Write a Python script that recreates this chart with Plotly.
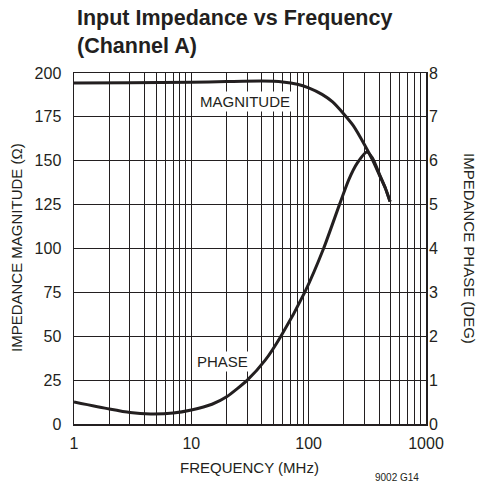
import plotly.graph_objects as go

# Frequency (MHz)
mag_freq = [1, 3, 10, 20, 40, 60, 80, 100, 130, 160, 200, 240, 300, 350, 400, 450, 494]
magnitude = [194.3, 194.4, 194.7, 195.1, 195.4, 194.9, 193.6, 191.5, 187.8, 183.5, 176.5, 170, 159, 150.5, 142, 134.5, 126.7]

phase_freq = [1, 2, 3, 4.5, 7, 10, 15, 20, 30, 42.8, 58, 92.5, 134, 183, 219, 260, 313, 350, 400, 450, 494]
phase_deg = [0.50, 0.34, 0.26, 0.23, 0.25, 0.32, 0.45, 0.62, 1.0, 1.46, 2.0, 3.0, 4.0, 5.0, 5.56, 5.95, 6.2, 6.06, 5.7, 5.38, 5.07]

x_ticks = [1, 10, 100, 1000]
x_minor = [m * d for d in (1, 10, 100) for m in range(2, 10)]

FONT = "Liberation Sans, Arial, sans-serif"
INK = "#231f20"

W, H = 482, 495
L, R, T, B = 74, 56, 73, 71
PW, PH = W - L - R, H - T - B


def px_to_paper(px, py):
    return (px - L) / PW, 1 - (py - T) / PH


fig = go.Figure()
fig.add_trace(go.Scatter(x=mag_freq, y=magnitude, mode="lines", hoverinfo="skip",
                         line=dict(color=INK, width=3, shape="spline", smoothing=0.6), showlegend=False))
fig.add_trace(go.Scatter(x=phase_freq, y=phase_deg, mode="lines", yaxis="y2", hoverinfo="skip",
                         line=dict(color=INK, width=3, shape="spline", smoothing=0.6), showlegend=False))

annotations = []
tx, ty = px_to_paper(75, 4)
annotations.append(dict(text="<b>Input Impedance vs Frequency<br>(Channel A)</b>", x=tx, y=ty, xref="paper", yref="paper",
                        xanchor="left", yanchor="top", align="left", showarrow=False,
                        font=dict(size=21.5, family=FONT, color=INK)))
annotations.append(dict(text="MAGNITUDE", x=1.458, y=183.6, xref="x", yref="y", showarrow=False,
                        bgcolor="white", font=dict(size=15), borderpad=1))
annotations.append(dict(text="PHASE", x=1.262, y=35.5, xref="x", yref="y", showarrow=False,
                        bgcolor="white", font=dict(size=15), borderpad=1))
for text, px, py, ang, size in [
    ("IMPEDANCE MAGNITUDE (Ω)", 16, 248, -90, 15),
    ("IMPEDANCE PHASE (DEG)", 470, 248, 90, 15),
    ("FREQUENCY (MHz)", 249, 467, 0, 15),
    ("9002 G14", 397, 478, 0, 10),
]:
    ax, ay = px_to_paper(px, py)
    annotations.append(dict(text=text, x=ax, y=ay, xref="paper", yref="paper", showarrow=False,
                            textangle=ang, font=dict(size=size), xanchor="center", yanchor="middle"))

fig.update_layout(
    width=W, height=H,
    margin=dict(l=L, r=R, t=T, b=B),
    paper_bgcolor="white", plot_bgcolor="white",
    font=dict(family=FONT, color=INK, size=16),
    hovermode=False,
    xaxis=dict(type="log", range=[0, 3], tickvals=x_ticks, ticktext=[str(v) for v in x_ticks],
               showgrid=True, gridcolor=INK, gridwidth=1, showline=True, linecolor=INK, linewidth=1.5, mirror=True,
               ticks="", zeroline=False, ticklabelstandoff=4,
               minor=dict(showgrid=True, tickmode="array", tickvals=x_minor, gridcolor=INK, gridwidth=1, ticks="")),
    yaxis=dict(range=[0, 200], dtick=25, showgrid=True, gridcolor=INK, gridwidth=1, showline=True, linecolor=INK,
               linewidth=1.5, mirror=True, ticks="", zeroline=False, ticklabelstandoff=8),
    yaxis2=dict(range=[0, 8], dtick=1, overlaying="y", side="right", showgrid=False, ticks="", zeroline=False,
                showline=False, ticklabelstandoff=2),
    annotations=annotations,
)

fig.write_html("out.html", config={"displayModeBar": False, "staticPlot": True},
               post_script="document.body.style.margin='0';document.body.style.padding='0';")
